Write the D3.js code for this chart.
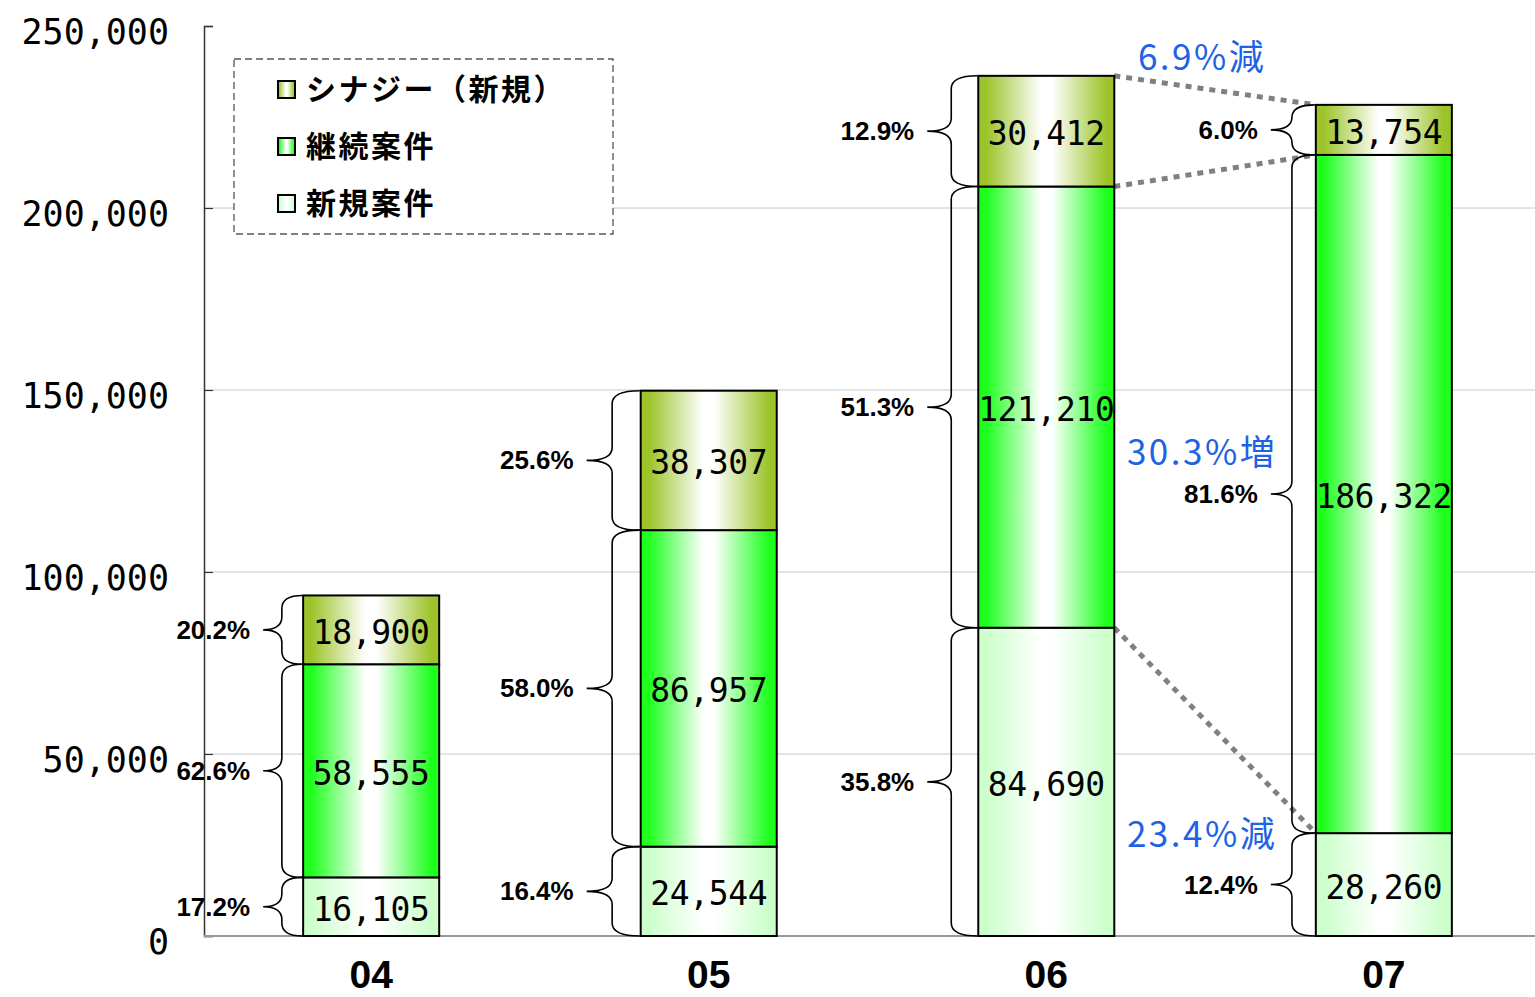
<!DOCTYPE html>
<html>
<head>
<meta charset="utf-8">
<script src="https://cdn.jsdelivr.net/npm/d3@7"></script>
<style>
  html, body { margin: 0; padding: 0; background: #fff; }
  svg { display: block; }
</style>
</head>
<body>
<svg id="chart" width="1535" height="997"></svg>
<script>
'use strict';

// data
var categories = ['04', '05', '06', '07'];
var seriesNames = ['シナジー（新規）', '継続案件', '新規案件'];
var newCases = [16105, 24544, 84690, 28260];
var contCases = [58555, 86957, 121210, 186322];
var synergy = [18900, 38307, 30412, 13754];
var newPct = ['17.2%', '16.4%', '35.8%', '12.4%'];
var contPct = ['62.6%', '58.0%', '51.3%', '81.6%'];
var synPct = ['20.2%', '25.6%', '12.9%', '6.0%'];
var yTicks = [0, 50000, 100000, 150000, 200000, 250000];
var changeLabels = ['6.9%減', '30.3%増', '23.4%減'];

var svg = d3.select('#chart');

var plot = { left: 204, right: 1535, top: 26, bottom: 936 };

var y = d3.scaleLinear().domain([0, 250000]).range([plot.bottom, plot.top]);
var x = d3.scaleBand().domain(categories).range([212, 1543])
  .paddingInner(0.597).paddingOuter(0.27);
var bw = x.bandwidth();

// gradients
var defs = svg.append('defs');
var makeGrad = function (id, c) {
  var g = defs.append('linearGradient').attr('id', id)
    .attr('x1', '0%').attr('x2', '100%').attr('y1', '0%').attr('y2', '0%');
  [[0, c], [0.06, c], [0.46, '#ffffff'], [0.54, '#ffffff'], [0.94, c], [1, c]].forEach(function (s) {
    g.append('stop').attr('offset', s[0]).attr('stop-color', s[1]);
  });
};
makeGrad('gSyn', '#9cc42a');
makeGrad('gCont', '#1eff1e');
makeGrad('gNew', '#ccffcc');
var fills = ['url(#gSyn)', 'url(#gCont)', 'url(#gNew)'];

// grid
svg.append('g').selectAll('line')
  .data(yTicks.filter(function (d) { return d > 0 && d < 250000; }))
  .enter().append('line')
  .attr('x1', plot.left).attr('x2', plot.right)
  .attr('y1', function (d) { return y(d); })
  .attr('y2', function (d) { return y(d); })
  .attr('stroke', '#c8c8c8').attr('stroke-width', 1);

// y axis
var yAxis = d3.axisRight(y).tickValues(yTicks).tickSize(9).tickFormat('');
var yg = svg.append('g').attr('transform', 'translate(' + plot.left + ',0)').call(yAxis);
yg.select('.domain').attr('stroke', '#333').attr('stroke-width', 1.5);
yg.selectAll('.tick line').attr('stroke', '#333').attr('stroke-width', 1.2);

svg.append('g').selectAll('text')
  .data(yTicks).enter().append('text')
  .attr('x', 169)
  .attr('y', function (d) { return y(d) + 18; })
  .attr('text-anchor', 'end')
  .style('font-family', '"DejaVu Sans Mono", monospace')
  .style('font-size', '35px')
  .text(d3.format(','));

// x axis line
svg.append('line')
  .attr('x1', plot.left).attr('x2', plot.right)
  .attr('y1', plot.bottom).attr('y2', plot.bottom)
  .attr('stroke', '#999').attr('stroke-width', 2);

svg.append('g').selectAll('text')
  .data(categories).enter().append('text')
  .attr('x', function (d) { return x(d) + bw / 2; })
  .attr('y', 988)
  .attr('text-anchor', 'middle')
  .style('font-family', '"Liberation Sans", Arial, sans-serif')
  .style('font-weight', 'bold')
  .style('font-size', '39px')
  .text(function (d) { return d; });

// stack segments
var segs = [];
categories.forEach(function (c, i) {
  var vals = [newCases[i], contCases[i], synergy[i]];
  var pcts = [newPct[i], contPct[i], synPct[i]];
  var f = [fills[2], fills[1], fills[0]];
  var base = 0;
  vals.forEach(function (v, k) {
    segs.push({ cat: c, i: i, k: k, y0: base, y1: base + v, v: v, pct: pcts[k], fill: f[k] });
    base += v;
  });
});

// dotted connectors between 06 and 07
var a = 2, b = 3;
var tops = function (i) {
  return [
    newCases[i] + contCases[i] + synergy[i],
    newCases[i] + contCases[i],
    newCases[i]
  ];
};
var ta = tops(a), tb = tops(b);
svg.append('g').selectAll('line')
  .data([0, 1, 2]).enter().append('line')
  .attr('x1', x(categories[a]) + bw)
  .attr('y1', function (k) { return y(ta[k]); })
  .attr('x2', x(categories[b]))
  .attr('y2', function (k) { return y(tb[k]); })
  .attr('stroke', '#808080').attr('stroke-width', 5)
  .attr('stroke-dasharray', '6,6');

// bars
svg.append('g').selectAll('rect')
  .data(segs).enter().append('rect')
  .attr('x', function (d) { return x(d.cat); })
  .attr('y', function (d) { return y(d.y1); })
  .attr('width', bw)
  .attr('height', function (d) { return y(d.y0) - y(d.y1); })
  .attr('fill', function (d) { return d.fill; })
  .attr('stroke', '#000').attr('stroke-width', 2);

svg.append('g').selectAll('text')
  .data(segs).enter().append('text')
  .attr('x', function (d) { return x(d.cat) + bw / 2; })
  .attr('y', function (d) { return (y(d.y0) + y(d.y1)) / 2 + 14; })
  .attr('text-anchor', 'middle')
  .style('font-family', '"DejaVu Sans Mono", monospace')
  .style('font-size', '33px')
  .style('letter-spacing', '-0.4px')
  .text(function (d) { return d3.format(',')(d.v); });

// braces
var braceDepth = [39, 53, 50, 44];
var bracePath = function (d) {
  var xb = x(d.cat) - 1;
  var dep = braceDepth[d.i];
  var xv = xb - dep * 0.52, xt = xb - dep;
  var yt = y(d.y1), yb = y(d.y0), ym = (yt + yb) / 2;
  var r = Math.min(13, (yb - yt) / 4);
  return 'M' + xb + ',' + yt +
    'Q' + xv + ',' + yt + ' ' + xv + ',' + (yt + r) +
    'L' + xv + ',' + (ym - r) +
    'Q' + xv + ',' + ym + ' ' + xt + ',' + ym +
    'M' + xt + ',' + ym +
    'Q' + xv + ',' + ym + ' ' + xv + ',' + (ym + r) +
    'L' + xv + ',' + (yb - r) +
    'Q' + xv + ',' + yb + ' ' + xb + ',' + yb;
};
svg.append('g').selectAll('path')
  .data(segs).enter().append('path')
  .attr('d', bracePath)
  .attr('fill', 'none').attr('stroke', '#000').attr('stroke-width', 1.6);

svg.append('g').selectAll('text')
  .data(segs).enter().append('text')
  .attr('x', function (d) { return x(d.cat) - braceDepth[d.i] - 14; })
  .attr('y', function (d) { return (y(d.y0) + y(d.y1)) / 2 + 9; })
  .attr('text-anchor', 'end')
  .style('font-family', '"Liberation Sans", Arial, sans-serif')
  .style('font-weight', 'bold')
  .style('font-size', '26px')
  .text(function (d) { return d.pct; });

// change annotations
var gapMid = (x(categories[a]) + bw + x(categories[b])) / 2 - 13;
var annY = [
  y(ta[0]) - 6,
  ((y(ta[1]) + y(ta[2])) / 2 + (y(tb[1]) + y(tb[2])) / 2) / 2 + 14,
  y(tb[2]) + 14
];
svg.append('g').selectAll('text')
  .data(changeLabels).enter().append('text')
  .attr('x', gapMid)
  .attr('y', function (d, k) { return annY[k]; })
  .attr('text-anchor', 'middle')
  .attr('fill', '#1e62e6')
  .style('font-family', '"Noto Sans CJK JP", sans-serif')
  .style('font-size', '35px')
  .style('letter-spacing', '2.5px')
  .text(function (d) { return d; });

// legend
var lg = svg.append('g');
lg.append('rect')
  .attr('x', 234).attr('y', 59).attr('width', 379).attr('height', 175)
  .attr('fill', '#fff').attr('stroke', '#555').attr('stroke-width', 1.3)
  .attr('stroke-dasharray', '7,4');
var items = lg.selectAll('g.item').data(seriesNames).enter().append('g')
  .attr('class', 'item')
  .attr('transform', function (d, k) { return 'translate(0,' + (89 + k * 57) + ')'; });
items.append('rect')
  .attr('x', 278).attr('y', -8).attr('width', 17).attr('height', 17)
  .attr('fill', function (d, k) { return fills[k]; })
  .attr('stroke', '#000').attr('stroke-width', 2);
items.append('text')
  .attr('x', 306).attr('y', 11)
  .style('font-family', '"Noto Sans CJK JP", sans-serif')
  .style('font-weight', 'bold')
  .style('font-size', '30px')
  .style('letter-spacing', '2.5px')
  .text(function (d) { return d; });
</script>
</body>
</html>
